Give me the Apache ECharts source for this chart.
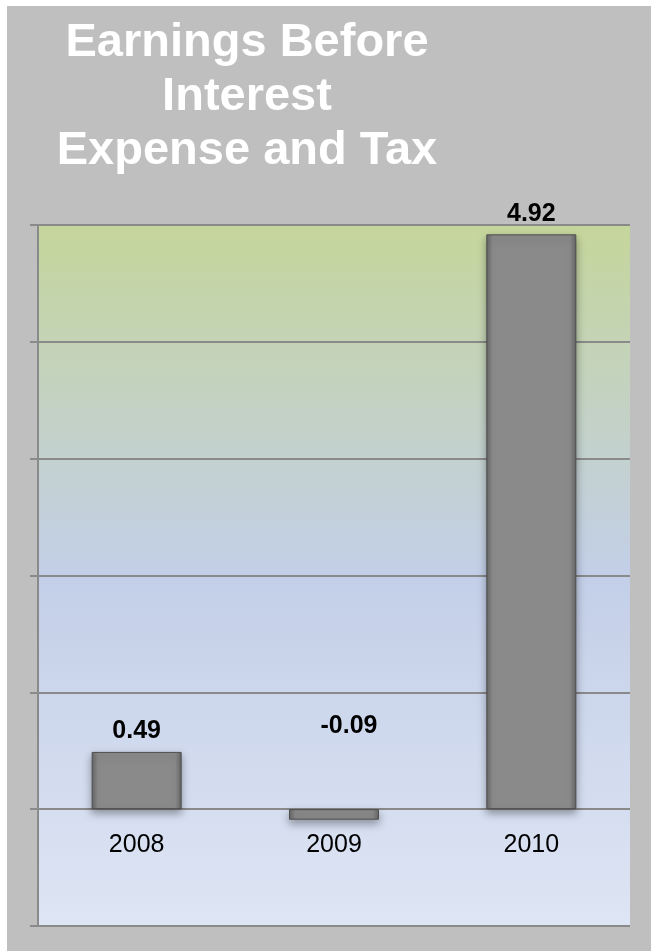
<!DOCTYPE html>
<html>
<head>
<meta charset="utf-8">
<script src="https://cdn.jsdelivr.net/npm/echarts@6/dist/echarts.min.js"></script>
<style>
  html, body { margin: 0; padding: 0; background: #ffffff; }
  #chart { position: absolute; left: 7px; top: 6px; width: 644px; height: 945px; }
</style>
</head>
<body>
<div id="chart"></div>
<script>
const titleText = 'Earnings Before\nInterest\nExpense and Tax';
const categories = ['2008', '2009', '2010'];
const values = [0.49, -0.09, 4.92];
const yMin = -1, yMax = 5, yInterval = 1;

const FONT = 'Helvetica, Arial, "Liberation Sans", sans-serif';
const gridColor = '#8a8a8a';

const chart = echarts.init(document.getElementById('chart'), null, { renderer: 'canvas' });

const barData = values.map(function (v) {
  const item = { value: v };
  if (v < 0) {
    item.label = { position: 'top', offset: [15, -63] };
  }
  return item;
});

chart.setOption({
  backgroundColor: '#bfbfbf',
  animation: false,
  graphic: [{
    type: 'text',
    x: 240,
    y: 10,
    style: {
      text: titleText,
      fill: '#ffffff',
      font: 'bold 47px ' + FONT,
      textAlign: 'center',
      textVerticalAlign: 'top',
      lineHeight: 54
    }
  }],
  grid: {
    left: 31, right: 21, top: 219, bottom: 25,
    outerBoundsMode: 'none',
    containLabel: false,
    show: true,
    borderWidth: 0,
    backgroundColor: new echarts.graphic.LinearGradient(0, 0, 0, 1, [
      { offset: 0, color: '#c5d69b' },
      { offset: 0.33, color: '#c3d1cf' },
      { offset: 0.5, color: '#c3cfe8' },
      { offset: 1, color: '#dee5f4' }
    ])
  },
  xAxis: {
    type: 'category',
    data: categories,
    axisLine: { show: false, onZero: false },
    axisTick: { show: false },
    axisLabel: { color: '#000', fontSize: 25, fontFamily: FONT, margin: 23 }
  },
  yAxis: {
    type: 'value',
    min: yMin, max: yMax, interval: yInterval,
    axisLine: { show: true, lineStyle: { color: gridColor, width: 2 } },
    axisTick: { show: true, inside: false, length: 8, lineStyle: { color: gridColor, width: 2 } },
    axisLabel: { show: false },
    splitLine: { show: true, lineStyle: { color: gridColor, width: 2 } }
  },
  series: [{
    type: 'bar',
    data: barData,
    barWidth: 90,
    itemStyle: {
      color: new echarts.graphic.LinearGradient(0, 0, 1, 0, [
        { offset: 0, color: '#666666' },
        { offset: 0.07, color: '#8a8a8a' },
        { offset: 0.93, color: '#8a8a8a' },
        { offset: 1, color: '#666666' }
      ]),
      borderColor: '#4d4d4d',
      borderWidth: 1,
      shadowColor: 'rgba(0,0,0,0.35)',
      shadowBlur: 8,
      shadowOffsetY: 4
    },
    label: {
      show: true,
      position: 'top',
      distance: 8,
      color: '#000',
      fontSize: 25,
      fontWeight: 'bold',
      fontFamily: FONT,
      formatter: function (p) { return p.value.toFixed(2); }
    }
  }]
});

// Place the category axis on the zero line using the library's own scale.
const zeroPx = chart.convertToPixel({ yAxisIndex: 0 }, 0);
const bottomPx = chart.convertToPixel({ yAxisIndex: 0 }, yMin);
chart.setOption({ xAxis: { offset: zeroPx - bottomPx } });
</script>
</body>
</html>
